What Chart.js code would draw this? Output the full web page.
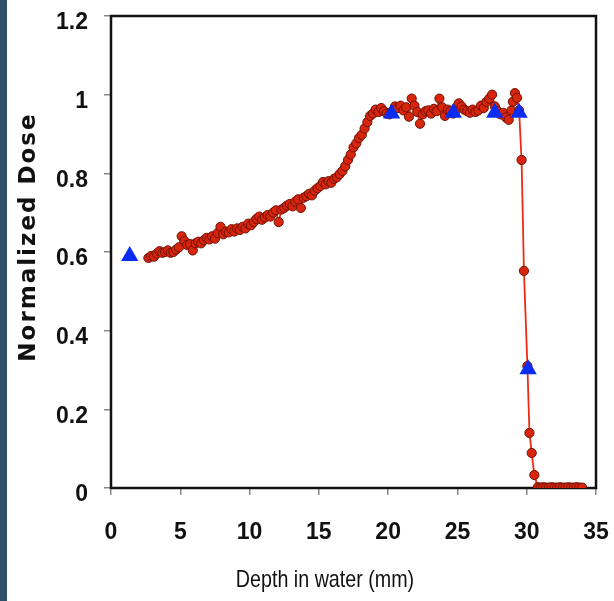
<!DOCTYPE html>
<html>
<head>
<meta charset="utf-8">
<script src="https://cdn.jsdelivr.net/npm/chart.js@4.4.1/dist/chart.umd.min.js"></script>
<style>
html, body { margin: 0; padding: 0; background: #fff; }
#wrap { position: relative; width: 614px; height: 601px; }
#strip { position: absolute; left: 0; top: 0; width: 7px; height: 601px; background: #2b5068; }
canvas { position: absolute; left: 0; top: 0; }
</style>
</head>
<body>
<div id="wrap">
  <div id="strip"></div>
  <canvas id="doseChart" width="614" height="601"></canvas>
</div>
<script>
// measured depth-dose curve (red circles)
const depth = [
  2.7, 2.9, 3.1, 3.3, 3.5, 3.7, 3.9, 4.1, 4.3, 4.5, 4.7, 4.9, 5.1, 5.3, 5.5, 5.7, 5.9,
  6.1, 6.3, 6.5, 6.7, 6.9, 7.1, 7.3, 7.5, 7.7, 7.9, 8.1, 8.3, 8.5, 8.7, 8.9,
  9.1, 9.3, 9.5, 9.7, 9.9, 10.1, 10.3, 10.5, 10.7, 10.9, 11.1, 11.3, 11.5, 11.7, 11.9,
  12.1, 12.3, 12.5, 12.7, 12.9, 13.1, 13.3, 13.5, 13.7, 13.9, 14.1, 14.3, 14.5, 14.7, 14.9,
  15.1, 15.3, 15.5, 15.7, 15.9, 16.1, 16.3, 16.5, 16.7, 16.9, 17.1, 17.3, 17.5, 17.7, 17.9,
  18.1, 18.3, 18.5, 18.7, 18.9, 19.1, 19.3, 19.5, 19.7, 19.9, 20.1, 20.3, 20.5, 20.7, 20.9,
  21.1, 21.3, 21.5, 21.7, 21.9, 22.1, 22.3, 22.5, 22.7, 22.9, 23.1, 23.3, 23.5, 23.7, 23.9,
  24.1, 24.3, 24.5, 24.7, 24.9, 25.1, 25.3, 25.5, 25.7, 25.9, 26.1, 26.3, 26.5, 26.7, 26.9,
  27.1, 27.3, 27.5, 27.7, 27.9, 28.1, 28.3, 28.5, 28.7, 28.9, 29.0, 29.15, 29.3, 29.45,
  29.63, 29.8, 30.05, 30.2, 30.36, 30.55,
  30.8, 31.0, 31.2, 31.4, 31.6, 31.8, 32.0, 32.2, 32.4, 32.6, 32.8, 33.0, 33.2, 33.4, 33.6, 33.8, 34.0
];
const dose = [
  0.585, 0.590, 0.588, 0.596, 0.602, 0.598, 0.600, 0.604, 0.598, 0.600, 0.606, 0.612, 0.640, 0.628, 0.618, 0.620, 0.604,
  0.622, 0.626, 0.622, 0.630, 0.636, 0.632, 0.640, 0.634, 0.648, 0.664, 0.645, 0.652, 0.650, 0.658, 0.652,
  0.660, 0.656, 0.664, 0.660, 0.672, 0.668, 0.676, 0.684, 0.690, 0.682, 0.688, 0.694, 0.690, 0.700, 0.706,
  0.676, 0.708, 0.712, 0.718, 0.722, 0.716, 0.728, 0.734, 0.712, 0.738, 0.742, 0.748, 0.744, 0.756, 0.762,
  0.768, 0.778, 0.772, 0.780, 0.776, 0.786, 0.790, 0.798, 0.806, 0.818, 0.834, 0.848, 0.866, 0.876, 0.890,
  0.898, 0.914, 0.930, 0.946, 0.952, 0.962, 0.956, 0.966, 0.958, 0.952, 0.950, 0.958, 0.970, 0.966, 0.972,
  0.960, 0.968, 0.944, 0.990, 0.972, 0.956, 0.926, 0.950, 0.958, 0.960, 0.952, 0.964, 0.958, 0.990, 0.968,
  0.946, 0.962, 0.958, 0.952, 0.960, 0.978, 0.970, 0.962, 0.958, 0.954, 0.962, 0.956, 0.960, 0.972, 0.966,
  0.982, 0.990, 1.000, 0.970, 0.958, 0.950, 0.954, 0.942, 0.936, 0.960, 0.982, 1.004, 0.992, 0.960,
  0.834, 0.552, 0.310, 0.140, 0.089, 0.033,
  0.002, 0.001, 0.002, 0.001, 0.001, 0.002, 0.001, 0.001, 0.002, 0.001, 0.001, 0.002, 0.001, 0.001, 0.002, 0.001, 0.001
];

// reference points (blue triangles)
const refDepth = [1.35, 20.25, 24.7, 27.7, 29.45, 30.1];
const refDose = [0.590, 0.952, 0.954, 0.954, 0.954, 0.302];

const xTicks = [0, 5, 10, 15, 20, 25, 30, 35];
const yTicks = [0, 0.2, 0.4, 0.6, 0.8, 1, 1.2];

const xTitle = "Depth in water (mm)";
const yTitle = "Normalized Dose";

const tickFont = { family: "'Liberation Sans', sans-serif", size: 23, weight: "bold" };

// box around the plot area (under the points) and the two axis titles
const framePlugin = {
  id: "frame",
  beforeDatasetsDraw(chart) {
    const { ctx, chartArea: a } = chart;
    ctx.save();
    ctx.strokeStyle = "#111";
    ctx.lineWidth = 2.5;
    ctx.strokeRect(a.left, a.top, a.right - a.left, a.bottom - a.top);
    ctx.restore();
  },
  afterDraw(chart) {
    const { ctx } = chart;
    ctx.save();
    ctx.fillStyle = "#111";
    ctx.textAlign = "center";
    ctx.textBaseline = "middle";
    // narrow look for the x title
    ctx.save();
    ctx.translate(325, 580);
    ctx.scale(0.82, 1);
    ctx.font = "24px 'Liberation Sans', sans-serif";
    ctx.fillText(xTitle, 0, 0);
    ctx.restore();
    ctx.translate(29, 237);
    ctx.rotate(-Math.PI / 2);
    ctx.font = "bold 23px 'DejaVu Sans', sans-serif";
    ctx.letterSpacing = "2px";
    ctx.fillText(yTitle, 0, 0);
    ctx.restore();
  }
};

new Chart(document.getElementById("doseChart"), {
  type: "scatter",
  data: {
    datasets: [
      {
        label: "Reference",
        data: refDepth.map((d, i) => ({ x: d, y: refDose[i] })),
        pointStyle: "triangle",
        pointRadius: 10,
        backgroundColor: "#0b2df2",
        borderColor: "#0b2df2",
        borderWidth: 0,
        showLine: false,
        order: 0
      },
      {
        label: "Measured",
        data: depth.map((d, i) => ({ x: d, y: dose[i] })),
        showLine: true,
        borderColor: "#ee2a14",
        borderWidth: 1.8,
        pointRadius: 4.6,
        pointBackgroundColor: "#d8250e",
        pointBorderColor: "#6e1204",
        pointBorderWidth: 1,
        order: 1
      }
    ]
  },
  options: {
    responsive: false,
    animation: false,
    layout: { padding: { left: 0, top: 16, right: 18, bottom: 0 } },
    plugins: { legend: { display: false }, tooltip: { enabled: false } },
    scales: {
      x: {
        type: "linear",
        min: 0,
        max: 35,
        afterBuildTicks: (axis) => { axis.ticks = xTicks.map(v => ({ value: v })); },
        afterFit: (axis) => { axis.height = 113; axis.paddingLeft = 0; axis.paddingRight = 0; },
        grid: { display: true, drawOnChartArea: false, drawTicks: true, tickLength: 7, color: "#888", lineWidth: 1.5 },
        border: { display: false },
        ticks: { color: "#111", padding: 24, font: tickFont, callback: (v) => String(v) }
      },
      y: {
        type: "linear",
        min: 0,
        max: 1.2,
        afterBuildTicks: (axis) => { axis.ticks = yTicks.map(v => ({ value: v })); },
        afterFit: (axis) => { axis.width = 111; axis.paddingTop = 0; axis.paddingBottom = 0; },
        grid: { display: true, drawOnChartArea: false, drawTicks: true, tickLength: 7, color: "#888", lineWidth: 1.5 },
        border: { display: false },
        ticks: { color: "#111", padding: 16, labelOffset: 7, font: tickFont, callback: (v) => String(v) }
      }
    }
  },
  plugins: [framePlugin]
});
</script>
</body>
</html>
